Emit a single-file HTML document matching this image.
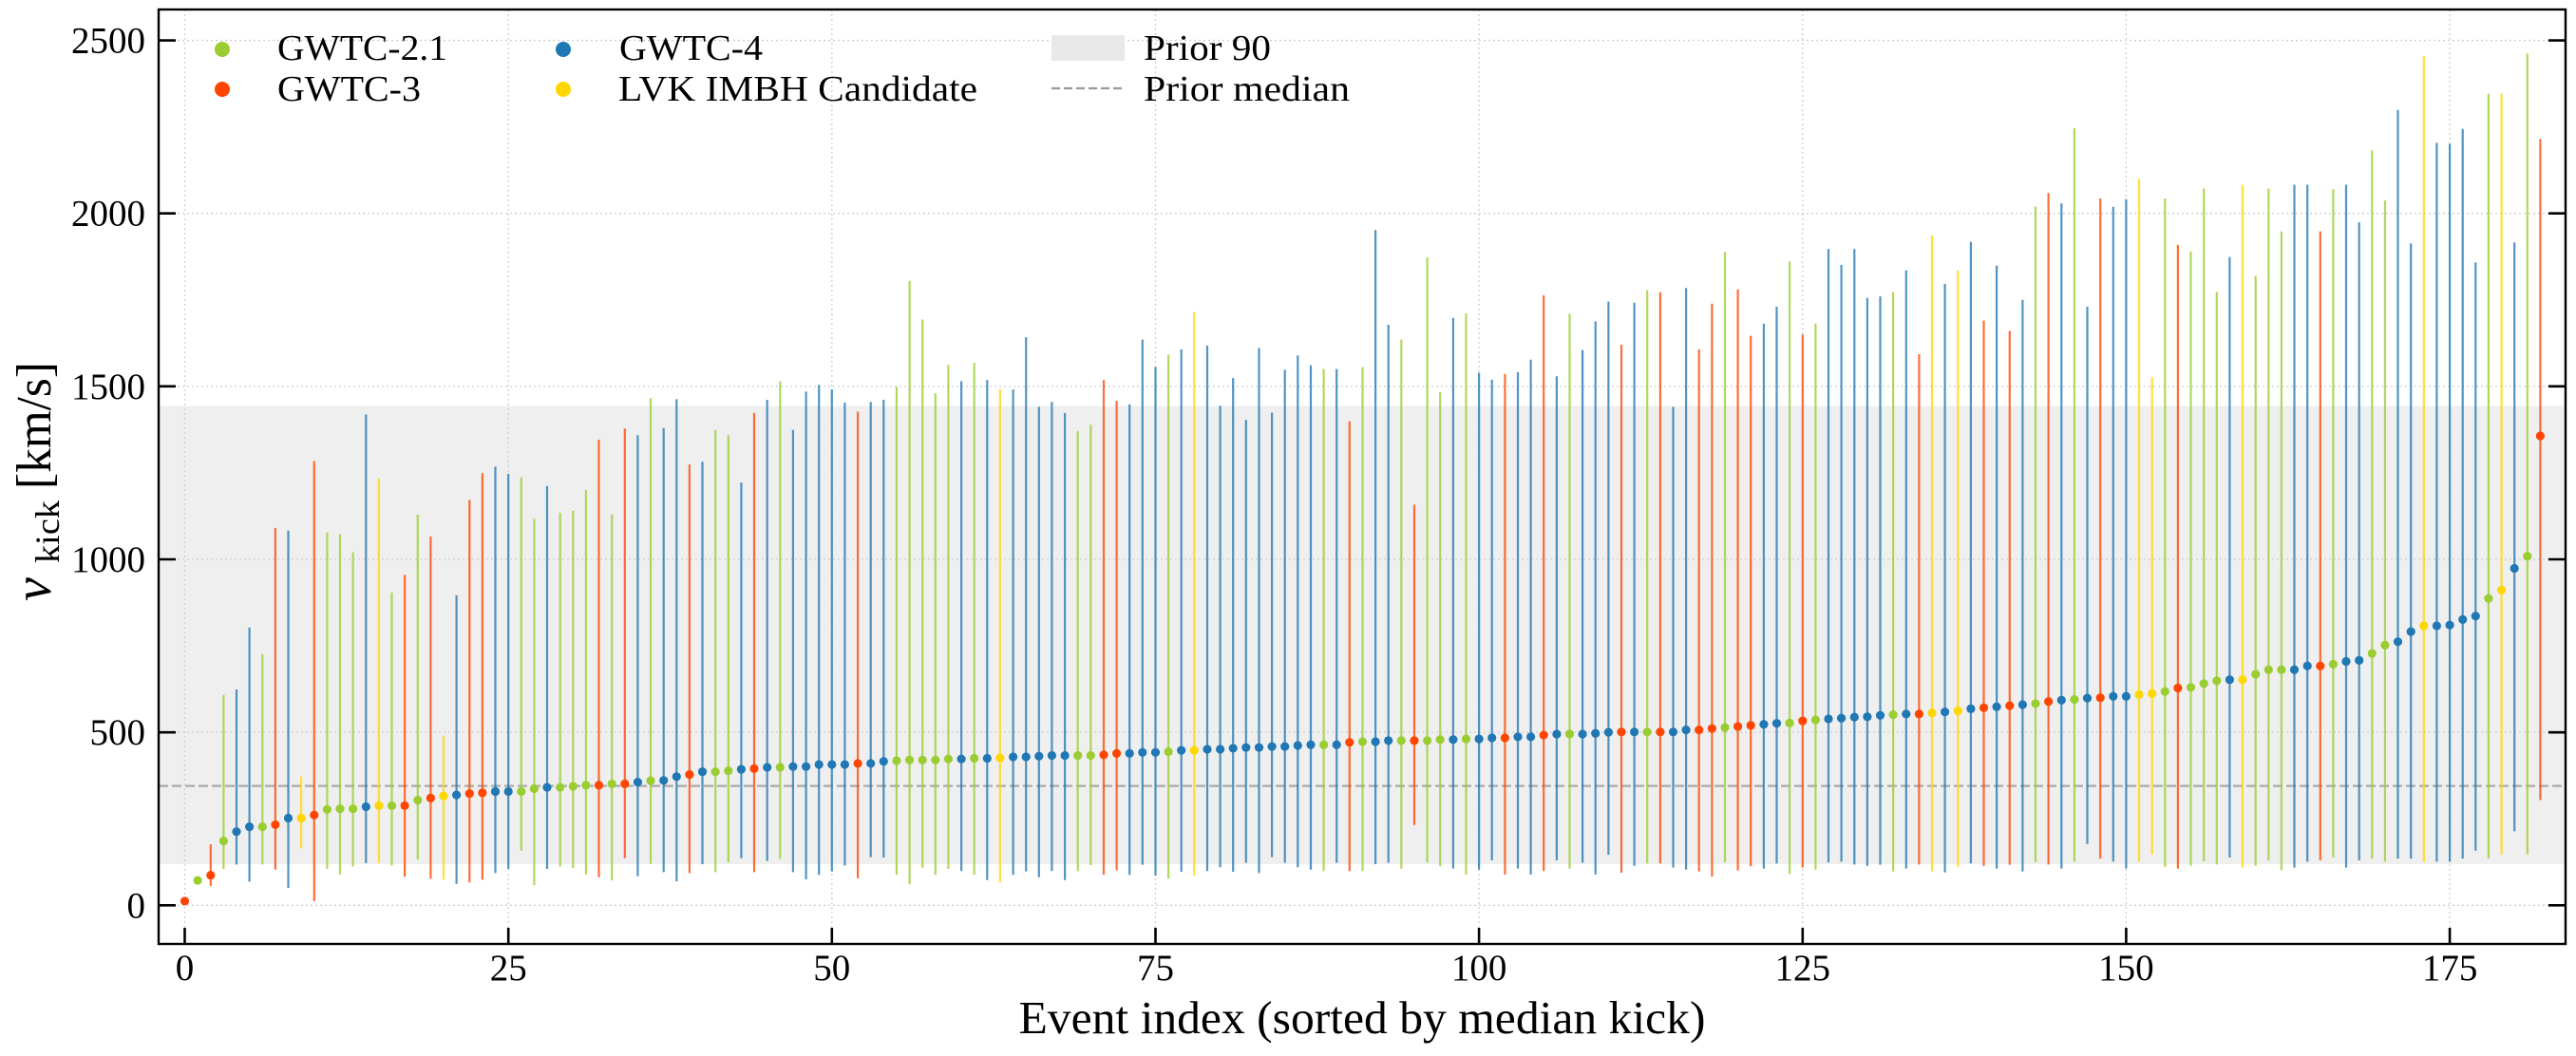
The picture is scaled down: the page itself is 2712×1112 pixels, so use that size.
<!DOCTYPE html>
<html>
<head>
<meta charset="utf-8">
<style>
html,body{margin:0;padding:0;background:#fff;}
svg{display:block;}
text{font-family:"Liberation Serif",serif;fill:#000;}
</style>
</head>
<body>
<svg width="2712" height="1112" viewBox="0 0 2712 1112" xmlns="http://www.w3.org/2000/svg">
<rect x="0" y="0" width="2712" height="1112" fill="#fff"/>
<!-- prior band -->
<rect x="167" y="427.6" width="2534" height="482.4" fill="#efefef"/>
<!-- grid -->
<g stroke="#cfcfcf" stroke-width="1.3" stroke-dasharray="2,3" fill="none">
<path d="M167 953.3H2701M167 771.15H2701M167 589H2701M167 406.85H2701M167 224.7H2701M167 42.55H2701"/>
<path d="M194.5 10V994M535.2 10V994M875.8 10V994M1216.5 10V994M1557.1 10V994M1897.8 10V994M2238.4 10V994M2579.1 10V994"/>
</g>
<!-- prior median -->
<line x1="167" x2="2701" y1="827.6" y2="827.6" stroke="#aaaaaa" stroke-width="2.2" stroke-dasharray="10,4"/>
<g transform="translate(0,953.3) scale(1,-0.3643)">
<!-- GWTC-2.1 green -->
<path fill="none" stroke="#9acd32" stroke-opacity="0.78" stroke-width="2.2" d="M235.4 105V608M276.3 118V726M344.4 105V1078M358 89V1073M371.6 112V1020M412.5 115V904M439.8 133V1129M548.8 158V1237M562.4 58V1117M589.7 112V1135M603.3 108V1140M616.9 89V1200M644.2 72V1130M685 120V1466M753.2 96V1374M766.8 124V1359M821.3 134V1515M943.9 88V1499M957.6 61V1805M971.2 109V1693M984.8 88V1480M998.4 105V1562M1025.7 88V1568M1134.7 99V1371M1148.3 116V1389M1230.1 77V1592M1393.6 99V1550M1434.5 99V1556M1475.3 106V1635M1502.6 123V1873M1516.2 113V1483M1543.5 89V1711M1652.5 106V1710M1734.2 121V1778M1816 124V1889M1884.1 91V1861M1911.4 103V1682M1993.1 98V1772M2143 124V2019M2183.9 126V2246M2279.3 111V2043M2306.5 114V1890M2320.2 127V2072M2333.8 118V1773M2374.7 114V1819M2388.3 130V2072M2401.9 101V1948M2456.4 138V2070M2497.3 135V2182M2510.9 126V2037M2619.9 135V2346M2660.8 147V2462"/>
<g fill="#9acd32">
<ellipse cx="208.1" cy="72" rx="4.6" ry="12.6"/><ellipse cx="235.4" cy="186" rx="4.6" ry="12.6"/><ellipse cx="276.3" cy="227" rx="4.6" ry="12.6"/><ellipse cx="344.4" cy="277" rx="4.6" ry="12.6"/><ellipse cx="358" cy="279" rx="4.6" ry="12.6"/><ellipse cx="371.6" cy="279" rx="4.6" ry="12.6"/><ellipse cx="412.5" cy="288" rx="4.6" ry="12.6"/><ellipse cx="439.8" cy="304" rx="4.6" ry="12.6"/><ellipse cx="548.8" cy="329" rx="4.6" ry="12.6"/><ellipse cx="562.4" cy="337" rx="4.6" ry="12.6"/><ellipse cx="589.7" cy="341" rx="4.6" ry="12.6"/><ellipse cx="603.3" cy="344" rx="4.6" ry="12.6"/><ellipse cx="616.9" cy="347" rx="4.6" ry="12.6"/><ellipse cx="644.2" cy="351" rx="4.6" ry="12.6"/><ellipse cx="685" cy="360" rx="4.6" ry="12.6"/><ellipse cx="753.2" cy="386" rx="4.6" ry="12.6"/><ellipse cx="766.8" cy="389" rx="4.6" ry="12.6"/><ellipse cx="821.3" cy="399" rx="4.6" ry="12.6"/><ellipse cx="943.9" cy="418" rx="4.6" ry="12.6"/><ellipse cx="957.6" cy="420" rx="4.6" ry="12.6"/><ellipse cx="971.2" cy="420" rx="4.6" ry="12.6"/><ellipse cx="984.8" cy="420" rx="4.6" ry="12.6"/><ellipse cx="998.4" cy="423" rx="4.6" ry="12.6"/><ellipse cx="1025.7" cy="425" rx="4.6" ry="12.6"/><ellipse cx="1134.7" cy="433" rx="4.6" ry="12.6"/><ellipse cx="1148.3" cy="433" rx="4.6" ry="12.6"/><ellipse cx="1230.1" cy="444" rx="4.6" ry="12.6"/><ellipse cx="1393.6" cy="464" rx="4.6" ry="12.6"/><ellipse cx="1434.5" cy="473" rx="4.6" ry="12.6"/><ellipse cx="1475.3" cy="476" rx="4.6" ry="12.6"/><ellipse cx="1502.6" cy="476" rx="4.6" ry="12.6"/><ellipse cx="1516.2" cy="479" rx="4.6" ry="12.6"/><ellipse cx="1543.5" cy="481" rx="4.6" ry="12.6"/><ellipse cx="1652.5" cy="495" rx="4.6" ry="12.6"/><ellipse cx="1734.2" cy="501" rx="4.6" ry="12.6"/><ellipse cx="1816" cy="514" rx="4.6" ry="12.6"/><ellipse cx="1884.1" cy="527" rx="4.6" ry="12.6"/><ellipse cx="1911.4" cy="536" rx="4.6" ry="12.6"/><ellipse cx="1993.1" cy="551" rx="4.6" ry="12.6"/><ellipse cx="2143" cy="583" rx="4.6" ry="12.6"/><ellipse cx="2183.9" cy="595" rx="4.6" ry="12.6"/><ellipse cx="2279.3" cy="618" rx="4.6" ry="12.6"/><ellipse cx="2306.5" cy="630" rx="4.6" ry="12.6"/><ellipse cx="2320.2" cy="641" rx="4.6" ry="12.6"/><ellipse cx="2333.8" cy="649" rx="4.6" ry="12.6"/><ellipse cx="2374.7" cy="668" rx="4.6" ry="12.6"/><ellipse cx="2388.3" cy="681" rx="4.6" ry="12.6"/><ellipse cx="2401.9" cy="681" rx="4.6" ry="12.6"/><ellipse cx="2456.4" cy="697" rx="4.6" ry="12.6"/><ellipse cx="2497.3" cy="728" rx="4.6" ry="12.6"/><ellipse cx="2510.9" cy="752" rx="4.6" ry="12.6"/><ellipse cx="2619.9" cy="887" rx="4.6" ry="12.6"/><ellipse cx="2660.8" cy="1009" rx="4.6" ry="12.6"/>
</g>
<!-- GWTC-3 orange -->
<path fill="none" stroke="#ff4500" stroke-opacity="0.78" stroke-width="2.2" d="M221.8 56V176M289.9 103V1091M330.8 12V1284M426.1 83V955M453.4 77V1066M494.3 66V1172M507.9 74V1249M630.5 81V1346M657.8 136V1378M725.9 93V1274M794 96V1423M903.1 78V1427M1162 88V1518M1175.6 101V1458M1420.8 99V1399M1489 232V1158M1584.4 89V1536M1625.2 99V1763M1707 94V1620M1747.9 121V1772M1788.7 98V1607M1802.4 83V1739M1829.6 101V1780M1843.2 113V1646M1897.8 109V1650M2020.4 118V1593M2088.5 114V1690M2115.8 117V1660M2156.6 118V2059M2211.2 135V2043M2292.9 106V1909M2442.8 130V1948M2674.4 304V2215"/>
<g fill="#ff4500">
<ellipse cx="194.5" cy="12" rx="4.6" ry="12.6"/><ellipse cx="221.8" cy="87" rx="4.6" ry="12.6"/><ellipse cx="289.9" cy="233" rx="4.6" ry="12.6"/><ellipse cx="330.8" cy="261" rx="4.6" ry="12.6"/><ellipse cx="426.1" cy="288" rx="4.6" ry="12.6"/><ellipse cx="453.4" cy="310" rx="4.6" ry="12.6"/><ellipse cx="494.3" cy="323" rx="4.6" ry="12.6"/><ellipse cx="507.9" cy="325" rx="4.6" ry="12.6"/><ellipse cx="630.5" cy="347" rx="4.6" ry="12.6"/><ellipse cx="657.8" cy="351" rx="4.6" ry="12.6"/><ellipse cx="725.9" cy="378" rx="4.6" ry="12.6"/><ellipse cx="794" cy="395" rx="4.6" ry="12.6"/><ellipse cx="903.1" cy="410" rx="4.6" ry="12.6"/><ellipse cx="1162" cy="435" rx="4.6" ry="12.6"/><ellipse cx="1175.6" cy="439" rx="4.6" ry="12.6"/><ellipse cx="1420.8" cy="471" rx="4.6" ry="12.6"/><ellipse cx="1489" cy="476" rx="4.6" ry="12.6"/><ellipse cx="1584.4" cy="484" rx="4.6" ry="12.6"/><ellipse cx="1625.2" cy="492" rx="4.6" ry="12.6"/><ellipse cx="1707" cy="501" rx="4.6" ry="12.6"/><ellipse cx="1747.9" cy="501" rx="4.6" ry="12.6"/><ellipse cx="1788.7" cy="507" rx="4.6" ry="12.6"/><ellipse cx="1802.4" cy="511" rx="4.6" ry="12.6"/><ellipse cx="1829.6" cy="517" rx="4.6" ry="12.6"/><ellipse cx="1843.2" cy="520" rx="4.6" ry="12.6"/><ellipse cx="1897.8" cy="533" rx="4.6" ry="12.6"/><ellipse cx="2020.4" cy="553" rx="4.6" ry="12.6"/><ellipse cx="2088.5" cy="571" rx="4.6" ry="12.6"/><ellipse cx="2115.8" cy="577" rx="4.6" ry="12.6"/><ellipse cx="2156.6" cy="589" rx="4.6" ry="12.6"/><ellipse cx="2211.2" cy="600" rx="4.6" ry="12.6"/><ellipse cx="2292.9" cy="628" rx="4.6" ry="12.6"/><ellipse cx="2442.8" cy="692" rx="4.6" ry="12.6"/><ellipse cx="2674.4" cy="1357" rx="4.6" ry="12.6"/>
</g>
<!-- GWTC-4 blue -->
<path fill="none" stroke="#1f77b4" stroke-opacity="0.78" stroke-width="2.2" d="M249 118V624M262.6 68V803M303.5 50V1083M385.3 122V1419M480.6 62V896M521.5 93V1268M535.2 105V1247M576 105V1212M671.4 84V1359M698.7 96V1379M712.3 69V1463M739.5 119V1282M780.4 136V1222M807.7 128V1461M834.9 96V1374M848.6 75V1485M862.2 88V1504M875.8 98V1491M889.4 115V1453M916.7 139V1455M930.3 138V1461M1012.1 99V1515M1039.3 73V1518M1066.6 88V1491M1080.2 98V1642M1093.8 81V1441M1107.4 99V1455M1121.1 73V1423M1189.2 88V1448M1202.8 117V1635M1216.5 86V1556M1243.7 97V1607M1271 99V1618M1284.6 110V1444M1298.2 97V1524M1311.8 123V1403M1325.5 93V1611M1339.1 139V1424M1352.7 123V1548M1366.3 110V1589M1380 103V1561M1407.2 123V1550M1448.1 119V1952M1461.7 123V1678M1529.9 106V1698M1557.1 103V1539M1570.7 130V1519M1598 106V1541M1611.6 89V1577M1638.9 130V1529M1666.1 123V1605M1679.7 89V1688M1693.4 146V1745M1720.6 114V1742M1761.5 109V1441M1775.1 103V1784M1856.9 106V1681M1870.5 121V1730M1925 124V1897M1938.6 126V1851M1952.3 118V1897M1965.9 114V1756M1979.5 117V1760M2006.8 106V1835M2047.6 95V1796M2074.9 121V1918M2102.1 106V1849M2129.4 98V1750M2170.3 106V2029M2197.5 177V1730M2224.8 126V2019M2238.4 106V2041M2347.4 138V1874M2415.5 109V2083M2429.2 126V2083M2470 109V2083M2483.7 130V1974M2524.5 135V2299M2538.2 135V1913M2565.4 126V2204M2579.1 126V2201M2592.7 135V2244M2606.3 158V1858M2647.2 214V1916"/>
<g fill="#1f77b4">
<ellipse cx="249" cy="213" rx="4.6" ry="12.6"/><ellipse cx="262.6" cy="227" rx="4.6" ry="12.6"/><ellipse cx="303.5" cy="252" rx="4.6" ry="12.6"/><ellipse cx="385.3" cy="285" rx="4.6" ry="12.6"/><ellipse cx="480.6" cy="319" rx="4.6" ry="12.6"/><ellipse cx="521.5" cy="329" rx="4.6" ry="12.6"/><ellipse cx="535.2" cy="329" rx="4.6" ry="12.6"/><ellipse cx="576" cy="341" rx="4.6" ry="12.6"/><ellipse cx="671.4" cy="356" rx="4.6" ry="12.6"/><ellipse cx="698.7" cy="361" rx="4.6" ry="12.6"/><ellipse cx="712.3" cy="372" rx="4.6" ry="12.6"/><ellipse cx="739.5" cy="386" rx="4.6" ry="12.6"/><ellipse cx="780.4" cy="393" rx="4.6" ry="12.6"/><ellipse cx="807.7" cy="399" rx="4.6" ry="12.6"/><ellipse cx="834.9" cy="401" rx="4.6" ry="12.6"/><ellipse cx="848.6" cy="401" rx="4.6" ry="12.6"/><ellipse cx="862.2" cy="407" rx="4.6" ry="12.6"/><ellipse cx="875.8" cy="407" rx="4.6" ry="12.6"/><ellipse cx="889.4" cy="407" rx="4.6" ry="12.6"/><ellipse cx="916.7" cy="410" rx="4.6" ry="12.6"/><ellipse cx="930.3" cy="416" rx="4.6" ry="12.6"/><ellipse cx="1012.1" cy="423" rx="4.6" ry="12.6"/><ellipse cx="1039.3" cy="425" rx="4.6" ry="12.6"/><ellipse cx="1066.6" cy="429" rx="4.6" ry="12.6"/><ellipse cx="1080.2" cy="429" rx="4.6" ry="12.6"/><ellipse cx="1093.8" cy="431" rx="4.6" ry="12.6"/><ellipse cx="1107.4" cy="433" rx="4.6" ry="12.6"/><ellipse cx="1121.1" cy="433" rx="4.6" ry="12.6"/><ellipse cx="1189.2" cy="439" rx="4.6" ry="12.6"/><ellipse cx="1202.8" cy="442" rx="4.6" ry="12.6"/><ellipse cx="1216.5" cy="442" rx="4.6" ry="12.6"/><ellipse cx="1243.7" cy="448" rx="4.6" ry="12.6"/><ellipse cx="1271" cy="451" rx="4.6" ry="12.6"/><ellipse cx="1284.6" cy="451" rx="4.6" ry="12.6"/><ellipse cx="1298.2" cy="454" rx="4.6" ry="12.6"/><ellipse cx="1311.8" cy="456" rx="4.6" ry="12.6"/><ellipse cx="1325.5" cy="456" rx="4.6" ry="12.6"/><ellipse cx="1339.1" cy="459" rx="4.6" ry="12.6"/><ellipse cx="1352.7" cy="459" rx="4.6" ry="12.6"/><ellipse cx="1366.3" cy="462" rx="4.6" ry="12.6"/><ellipse cx="1380" cy="464" rx="4.6" ry="12.6"/><ellipse cx="1407.2" cy="464" rx="4.6" ry="12.6"/><ellipse cx="1448.1" cy="473" rx="4.6" ry="12.6"/><ellipse cx="1461.7" cy="476" rx="4.6" ry="12.6"/><ellipse cx="1529.9" cy="479" rx="4.6" ry="12.6"/><ellipse cx="1557.1" cy="481" rx="4.6" ry="12.6"/><ellipse cx="1570.7" cy="484" rx="4.6" ry="12.6"/><ellipse cx="1598" cy="487" rx="4.6" ry="12.6"/><ellipse cx="1611.6" cy="487" rx="4.6" ry="12.6"/><ellipse cx="1638.9" cy="495" rx="4.6" ry="12.6"/><ellipse cx="1666.1" cy="495" rx="4.6" ry="12.6"/><ellipse cx="1679.7" cy="497" rx="4.6" ry="12.6"/><ellipse cx="1693.4" cy="500" rx="4.6" ry="12.6"/><ellipse cx="1720.6" cy="501" rx="4.6" ry="12.6"/><ellipse cx="1761.5" cy="501" rx="4.6" ry="12.6"/><ellipse cx="1775.1" cy="507" rx="4.6" ry="12.6"/><ellipse cx="1856.9" cy="523" rx="4.6" ry="12.6"/><ellipse cx="1870.5" cy="526" rx="4.6" ry="12.6"/><ellipse cx="1925" cy="539" rx="4.6" ry="12.6"/><ellipse cx="1938.6" cy="541" rx="4.6" ry="12.6"/><ellipse cx="1952.3" cy="544" rx="4.6" ry="12.6"/><ellipse cx="1965.9" cy="545" rx="4.6" ry="12.6"/><ellipse cx="1979.5" cy="549" rx="4.6" ry="12.6"/><ellipse cx="2006.8" cy="553" rx="4.6" ry="12.6"/><ellipse cx="2047.6" cy="559" rx="4.6" ry="12.6"/><ellipse cx="2074.9" cy="568" rx="4.6" ry="12.6"/><ellipse cx="2102.1" cy="574" rx="4.6" ry="12.6"/><ellipse cx="2129.4" cy="580" rx="4.6" ry="12.6"/><ellipse cx="2170.3" cy="593" rx="4.6" ry="12.6"/><ellipse cx="2197.5" cy="599" rx="4.6" ry="12.6"/><ellipse cx="2224.8" cy="604" rx="4.6" ry="12.6"/><ellipse cx="2238.4" cy="604" rx="4.6" ry="12.6"/><ellipse cx="2347.4" cy="652" rx="4.6" ry="12.6"/><ellipse cx="2415.5" cy="681" rx="4.6" ry="12.6"/><ellipse cx="2429.2" cy="692" rx="4.6" ry="12.6"/><ellipse cx="2470" cy="705" rx="4.6" ry="12.6"/><ellipse cx="2483.7" cy="708" rx="4.6" ry="12.6"/><ellipse cx="2524.5" cy="762" rx="4.6" ry="12.6"/><ellipse cx="2538.2" cy="791" rx="4.6" ry="12.6"/><ellipse cx="2565.4" cy="808" rx="4.6" ry="12.6"/><ellipse cx="2579.1" cy="810" rx="4.6" ry="12.6"/><ellipse cx="2592.7" cy="826" rx="4.6" ry="12.6"/><ellipse cx="2606.3" cy="836" rx="4.6" ry="12.6"/><ellipse cx="2647.2" cy="974" rx="4.6" ry="12.6"/>
</g>
<!-- LVK IMBH yellow -->
<path fill="none" stroke="#ffd700" stroke-opacity="0.78" stroke-width="2.2" d="M317.1 164V372M398.9 122V1234M467 74V490M1052.9 67V1492M1257.3 86V1715M2034 98V1936M2061.3 111V1835M2252 126V2099M2265.7 147V1526M2361 109V2083M2551.8 126V2454M2633.6 147V2346"/>
<g fill="#ffd700">
<ellipse cx="317.1" cy="252" rx="4.6" ry="12.6"/><ellipse cx="398.9" cy="288" rx="4.6" ry="12.6"/><ellipse cx="467" cy="316" rx="4.6" ry="12.6"/><ellipse cx="1052.9" cy="426" rx="4.6" ry="12.6"/><ellipse cx="1257.3" cy="448" rx="4.6" ry="12.6"/><ellipse cx="2034" cy="556" rx="4.6" ry="12.6"/><ellipse cx="2061.3" cy="562" rx="4.6" ry="12.6"/><ellipse cx="2252" cy="609" rx="4.6" ry="12.6"/><ellipse cx="2265.7" cy="612" rx="4.6" ry="12.6"/><ellipse cx="2361" cy="652" rx="4.6" ry="12.6"/><ellipse cx="2551.8" cy="808" rx="4.6" ry="12.6"/><ellipse cx="2633.6" cy="911" rx="4.6" ry="12.6"/>
</g>
</g>
<!-- spines & ticks -->
<rect x="167" y="10" width="2534" height="984" fill="none" stroke="#000" stroke-width="2.4"/>
<path stroke="#000" stroke-width="2.6" fill="none" d="M167 953.3h18M167 771.15h18M167 589h18M167 406.85h18M167 224.7h18M167 42.55h18M2701 953.3h-18M2701 771.15h-18M2701 589h-18M2701 406.85h-18M2701 224.7h-18M2701 42.55h-18M194.5 994v-17M535.2 994v-17M875.8 994v-17M1216.5 994v-17M1557.1 994v-17M1897.8 994v-17M2238.4 994v-17M2579.1 994v-17"/>
<!-- y tick labels -->
<g font-size="39" text-anchor="end">
<text x="153" y="966.3">0</text>
<text x="153" y="784.2">500</text>
<text x="153" y="602">1000</text>
<text x="153" y="419.9">1500</text>
<text x="153" y="237.7">2000</text>
<text x="153" y="55.6">2500</text>
</g>
<!-- x tick labels -->
<g font-size="39" text-anchor="middle">
<text x="194.5" y="1032">0</text>
<text x="535.2" y="1032">25</text>
<text x="875.8" y="1032">50</text>
<text x="1216.5" y="1032">75</text>
<text x="1557.1" y="1032">100</text>
<text x="1897.8" y="1032">125</text>
<text x="2238.4" y="1032">150</text>
<text x="2579.1" y="1032">175</text>
</g>
<!-- axis labels -->
<text x="1434" y="1088" font-size="49" text-anchor="middle" textLength="723" lengthAdjust="spacingAndGlyphs">Event index (sorted by median kick)</text>
<g transform="translate(53,635) rotate(-90)">
<text x="2" y="0" font-size="56" font-style="italic">v</text>
<text x="42" y="9" font-size="36" textLength="66" lengthAdjust="spacingAndGlyphs">kick</text>
<text x="120" y="0" font-size="52" textLength="134" lengthAdjust="spacingAndGlyphs">[km/s]</text>
</g>
<!-- legend -->
<circle cx="234" cy="52" r="8" fill="#9acd32"/>
<circle cx="234" cy="94" r="8" fill="#ff4500"/>
<circle cx="593" cy="52" r="8" fill="#1f77b4"/>
<circle cx="593" cy="94" r="8" fill="#ffd700"/>
<rect x="1107" y="37" width="77" height="27" fill="#e9e9e9"/>
<line x1="1107" x2="1184" y1="93" y2="93" stroke="#999" stroke-width="2.2" stroke-dasharray="9,4"/>
<g font-size="38">
<text x="292" y="63" textLength="179" lengthAdjust="spacingAndGlyphs">GWTC-2.1</text>
<text x="292" y="106" textLength="151" lengthAdjust="spacingAndGlyphs">GWTC-3</text>
<text x="652" y="63" textLength="151" lengthAdjust="spacingAndGlyphs">GWTC-4</text>
<text x="651" y="106" textLength="378" lengthAdjust="spacingAndGlyphs">LVK IMBH Candidate</text>
<text x="1204" y="63" textLength="134" lengthAdjust="spacingAndGlyphs">Prior 90</text>
<text x="1204" y="106" textLength="217" lengthAdjust="spacingAndGlyphs">Prior median</text>
</g>
</svg>
</body>
</html>
